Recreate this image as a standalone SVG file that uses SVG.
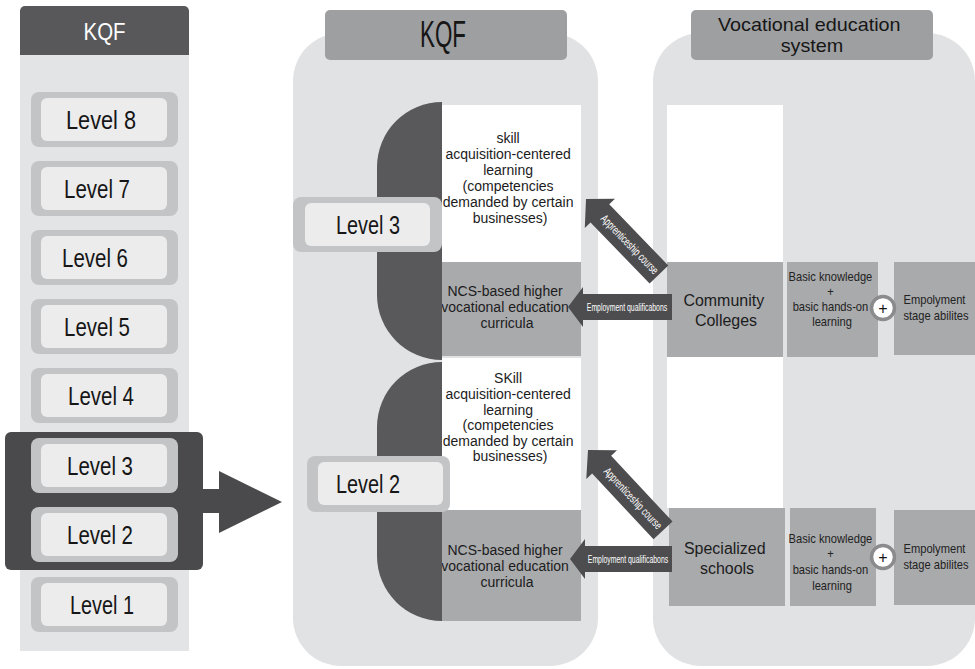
<svg xmlns="http://www.w3.org/2000/svg" width="975" height="669" viewBox="0 0 975 669">
  <style>
    text { font-family: "Liberation Sans", Arial, sans-serif; text-anchor: middle; fill: #161616; }
    .col { fill: #e3e4e5; }
    .lvl-out { fill: #c3c4c6; }
    .lvl-in { fill: #ececed; }
    .lvl { font-size: 26px; }
    .panel { fill: #e1e2e3; }
    .hdr { fill: #9e9fa1; }
    .dark { fill: #59595b; }
    .box { fill: #a9aaac; }
    .white { fill: #ffffff; }
    .arrow { fill: #4d4d4f; }
    .body { font-size: 14px; fill: #1c1c1c; }
    .mid { font-size: 17px; fill: #1c1c1c; }
    .small { font-size: 12px; fill: #222222; }
    .lbl { font-size: 11.5px; fill: #ffffff; }
    .plus { fill: #ffffff; stroke: #8b8b8d; stroke-width: 3.5; }
  </style>

  <!-- Left column: KQF level ladder -->
  <g id="kqf-column">
    <rect x="20" y="6" width="169" height="60" rx="5" fill="#58585a"/>
    <rect class="col" x="20" y="55" width="169" height="596"/>
    <text x="104.5" y="40" font-size="24" style="fill:#ffffff" textLength="42" lengthAdjust="spacingAndGlyphs">KQF</text>
  </g>

  <g id="highlight">
    <rect x="5" y="432" width="198" height="138" rx="6" fill="#4a4a4c"/>
  </g>

  <g id="level-8">
    <rect class="lvl-out" x="31" y="92" width="147" height="55" rx="8"/>
    <rect class="lvl-in" x="41" y="98" width="126" height="43" rx="6"/>
    <text class="lvl" x="101" y="129" textLength="70" lengthAdjust="spacingAndGlyphs">Level 8</text>
  </g>
  <g id="level-7">
    <rect class="lvl-out" x="31" y="161" width="147" height="55" rx="8"/>
    <rect class="lvl-in" x="41" y="167" width="126" height="43" rx="6"/>
    <text class="lvl" x="97" y="198" textLength="66" lengthAdjust="spacingAndGlyphs">Level 7</text>
  </g>
  <g id="level-6">
    <rect class="lvl-out" x="31" y="230" width="147" height="55" rx="8"/>
    <rect class="lvl-in" x="41" y="236" width="126" height="43" rx="6"/>
    <text class="lvl" x="95" y="267" textLength="66" lengthAdjust="spacingAndGlyphs">Level 6</text>
  </g>
  <g id="level-5">
    <rect class="lvl-out" x="31" y="299" width="147" height="55" rx="8"/>
    <rect class="lvl-in" x="41" y="305" width="126" height="43" rx="6"/>
    <text class="lvl" x="97" y="336" textLength="66" lengthAdjust="spacingAndGlyphs">Level 5</text>
  </g>
  <g id="level-4">
    <rect class="lvl-out" x="31" y="368" width="147" height="55" rx="8"/>
    <rect class="lvl-in" x="41" y="374" width="126" height="43" rx="6"/>
    <text class="lvl" x="101" y="405" textLength="66" lengthAdjust="spacingAndGlyphs">Level 4</text>
  </g>
  <g id="level-3">
    <rect class="lvl-out" x="31" y="438" width="147" height="55" rx="8"/>
    <rect class="lvl-in" x="41" y="444" width="126" height="43" rx="6"/>
    <text class="lvl" x="100" y="475" textLength="66" lengthAdjust="spacingAndGlyphs">Level 3</text>
  </g>
  <g id="level-2">
    <rect class="lvl-out" x="31" y="507" width="147" height="55" rx="8"/>
    <rect class="lvl-in" x="41" y="513" width="126" height="43" rx="6"/>
    <text class="lvl" x="100" y="544" textLength="66" lengthAdjust="spacingAndGlyphs">Level 2</text>
  </g>
  <g id="level-1">
    <rect class="lvl-out" x="31" y="577" width="147" height="55" rx="8"/>
    <rect class="lvl-in" x="41" y="583" width="126" height="43" rx="6"/>
    <text class="lvl" x="102" y="614" textLength="64" lengthAdjust="spacingAndGlyphs">Level 1</text>
  </g>

  <!-- Middle panel: KQF levels 2 and 3 -->
  <g id="kqf-panel">
    <rect class="panel" x="293" y="33" width="305" height="633" rx="48"/>
    <rect class="hdr" x="325" y="10" width="242" height="50" rx="5"/>
    <text x="443" y="47" font-size="36" textLength="46" lengthAdjust="spacingAndGlyphs">KQF</text>
  </g>

  <g id="skill-learning-3">
    <rect class="white" x="442" y="105" width="139" height="157"/>
    <text class="body">
      <tspan x="510" y="143">skill</tspan>
      <tspan x="510" y="159">acquisition-centered</tspan>
      <tspan x="510" y="175">learning</tspan>
      <tspan x="510" y="191">(competencies</tspan>
      <tspan x="510" y="207">demanded by certain</tspan>
      <tspan x="510" y="223">businesses)</tspan>
    </text>
  </g>
  <g id="ncs-curricula-3">
    <rect class="box" x="442" y="262" width="139" height="94"/>
    <text class="body">
      <tspan x="507" y="296">NCS-based higher</tspan>
      <tspan x="507" y="312">vocational education</tspan>
      <tspan x="507" y="328">curricula</tspan>
    </text>
  </g>
  <g id="skill-learning-2">
    <rect class="white" x="442" y="358" width="139" height="152"/>
    <text class="body">
      <tspan x="510" y="383">SKill</tspan>
      <tspan x="510" y="399">acquisition-centered</tspan>
      <tspan x="510" y="415">learning</tspan>
      <tspan x="510" y="430">(competencies</tspan>
      <tspan x="510" y="446">demanded by certain</tspan>
      <tspan x="510" y="461">businesses)</tspan>
    </text>
  </g>
  <g id="ncs-curricula-2">
    <rect class="box" x="442" y="510" width="139" height="111"/>
    <text class="body">
      <tspan x="507" y="555">NCS-based higher</tspan>
      <tspan x="507" y="571">vocational education</tspan>
      <tspan x="507" y="587">curricula</tspan>
    </text>
  </g>

  <g id="level-band-3">
    <path class="dark" d="M442,102 A65,65 0 0 0 377,167 L377,295 A65,65 0 0 0 442,360 Z"/>
    <rect class="lvl-out" x="293" y="197" width="149" height="55" rx="8"/>
    <rect class="lvl-in" x="305" y="203" width="125" height="43" rx="6"/>
    <text class="lvl" x="368" y="234" textLength="64" lengthAdjust="spacingAndGlyphs">Level 3</text>
  </g>
  <g id="level-band-2">
    <path class="dark" d="M442,362 A65,65 0 0 0 377,427 L377,556 A65,65 0 0 0 442,621 Z"/>
    <rect class="lvl-out" x="307" y="456" width="143" height="56" rx="8"/>
    <rect class="lvl-in" x="318" y="462" width="125" height="43" rx="6"/>
    <text class="lvl" x="368" y="493" textLength="64" lengthAdjust="spacingAndGlyphs">Level 2</text>
  </g>

  <!-- Right panel: vocational education system -->
  <g id="voc-panel">
    <rect class="panel" x="653" y="33" width="322" height="633" rx="48"/>
    <rect class="hdr" x="691" y="10" width="242" height="50" rx="5"/>
    <g transform="translate(812 0) scale(1.1 1)">
      <text font-size="18">
        <tspan x="0" y="31">Vocational education</tspan>
        <tspan x="0" y="52">system</tspan>
      </text>
    </g>
    <rect class="white" x="667" y="105" width="116" height="403"/>
  </g>

  <g id="community-colleges">
    <rect class="box" x="667" y="262" width="116" height="95"/>
    <g transform="translate(726 0) scale(0.94 1)">
      <text class="mid">
        <tspan x="0" y="306">Community</tspan>
        <tspan x="0" y="326">Colleges</tspan>
      </text>
    </g>
  </g>
  <g id="basic-learning-cc">
    <rect class="box" x="787" y="262" width="91" height="95"/>
    <g transform="translate(832 0) scale(0.93 1)">
      <text class="small">
        <tspan x="0" y="281">Basic knowledge</tspan>
        <tspan x="0" y="296">+</tspan>
        <tspan x="0" y="311">basic hands-on</tspan>
        <tspan x="0" y="326">learning</tspan>
      </text>
    </g>
  </g>
  <g id="employment-abilities-cc">
    <rect class="box" x="894" y="262" width="81" height="93"/>
    <g transform="translate(936 0) scale(0.93 1)">
      <text class="small">
        <tspan x="0" y="304">Empolyment</tspan>
        <tspan x="0" y="320">stage abilites</tspan>
      </text>
    </g>
  </g>
  <g id="plus-cc">
    <circle class="plus" cx="883" cy="308" r="11.5"/>
    <text x="883" y="313.5" font-size="16">+</text>
  </g>

  <g id="specialized-schools">
    <rect class="box" x="669" y="508" width="116" height="98"/>
    <g transform="translate(727 0) scale(0.94 1)">
      <text class="mid">
        <tspan x="0" y="554">Specialized</tspan>
        <tspan x="0" y="574">schools</tspan>
      </text>
    </g>
  </g>
  <g id="basic-learning-ss">
    <rect class="box" x="790" y="508" width="86" height="98"/>
    <g transform="translate(832 0) scale(0.93 1)">
      <text class="small">
        <tspan x="0" y="543">Basic knowledge</tspan>
        <tspan x="0" y="558">+</tspan>
        <tspan x="0" y="574">basic hands-on</tspan>
        <tspan x="0" y="590">learning</tspan>
      </text>
    </g>
  </g>
  <g id="employment-abilities-ss">
    <rect class="box" x="894" y="510" width="81" height="95"/>
    <g transform="translate(936 0) scale(0.93 1)">
      <text class="small">
        <tspan x="0" y="553">Empolyment</tspan>
        <tspan x="0" y="569">stage abilites</tspan>
      </text>
    </g>
  </g>
  <g id="plus-ss">
    <circle class="plus" cx="883" cy="557" r="11.5"/>
    <text x="883" y="562.5" font-size="16">+</text>
  </g>

  <!-- Connectors -->
  <g id="connectors">
    <path d="M203,489 L219,489 L219,471 L282,502 L219,533 L219,513 L203,513 Z" fill="#4a4a4c"/>

    <path class="arrow" d="M568,307 L583,287 L583,294 L672,294 L672,320 L583,320 L583,327 Z"/>
    <g transform="translate(627 311) scale(0.6 1)">
      <text class="lbl" x="0" y="0">Employment qualificabons</text>
    </g>

    <path class="arrow" d="M570,559 L585,539 L585,546 L672,546 L672,572 L585,572 L585,579 Z"/>
    <g transform="translate(628 563) scale(0.6 1)">
      <text class="lbl" x="0" y="0">Employment qualificabons</text>
    </g>

    <g transform="translate(586,199) rotate(46)">
      <path class="arrow" d="M0,0 L20,-21 L20,-13 L105,-13 L105,13 L20,13 L20,21 Z"/>
      <g transform="translate(63 4) scale(0.68 1)">
        <text class="lbl" x="0" y="0">Apprenticeship course</text>
      </g>
    </g>
    <g transform="translate(588,450) rotate(47)">
      <path class="arrow" d="M0,0 L20,-21 L20,-13 L110,-13 L110,13 L20,13 L20,21 Z"/>
      <g transform="translate(66 4) scale(0.7 1)">
        <text class="lbl" x="0" y="0">Apprenticeship course</text>
      </g>
    </g>
  </g>
</svg>
